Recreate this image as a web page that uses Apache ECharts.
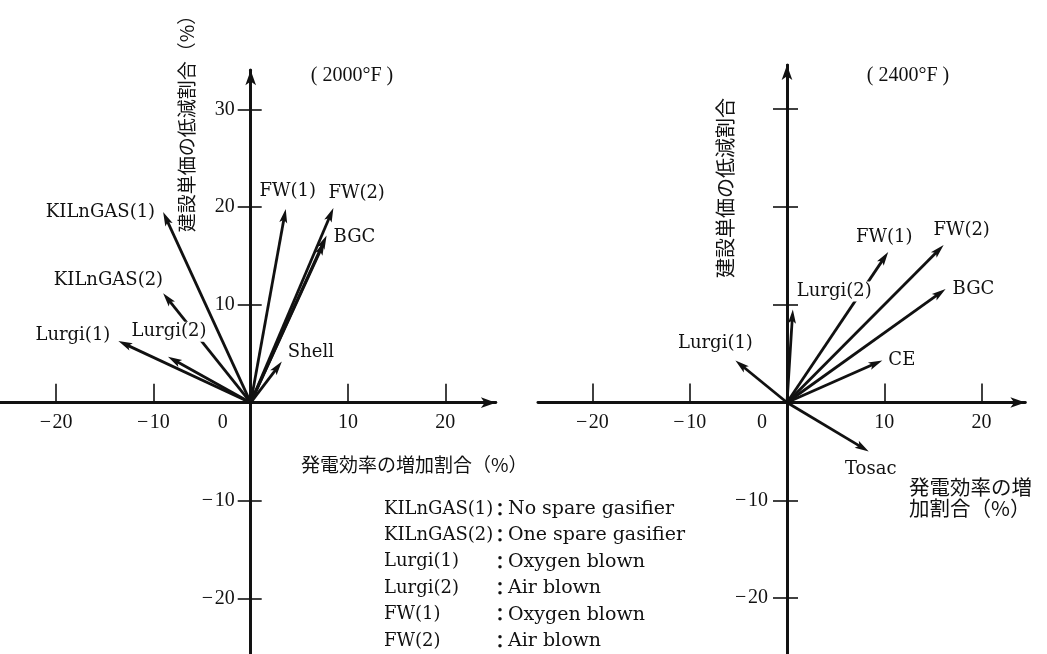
<!DOCTYPE html>
<html>
<head>
<meta charset="utf-8">
<script src="https://cdn.jsdelivr.net/npm/echarts@6/dist/echarts.min.js"></script>
<style>
  html, body { margin: 0; padding: 0; background: #fff; }
  #main { width: 1047px; height: 654px; }
</style>
</head>
<body>
<div id="main"></div>
<script>
// 2000°F 側のベクトル (発電効率の増加割合, 建設単価の低減割合)
var leftNames = ['KILnGAS(1)', 'KILnGAS(2)', 'Lurgi(1)', 'Lurgi(2)', 'FW(1)', 'FW(2)', 'BGC', '', 'Shell'];
var leftX = [-9.0, -9.0, -13.6, -8.5, 3.6, 8.5, 7.8, 7.6, 3.2];
var leftY = [19.5, 11.2, 6.3, 4.7, 19.8, 19.9, 17.1, 16.5, 4.2];

// 2400°F 側のベクトル
var rightNames = ['Lurgi(1)', 'Lurgi(2)', 'FW(1)', 'FW(2)', 'BGC', 'CE', 'Tosac'];
var rightX = [-5.3, 0.6, 10.4, 16.1, 16.3, 9.8, 8.4];
var rightY = [4.3, 9.5, 15.4, 16.1, 11.6, 4.3, -5.0];

// 目盛
var xTicks = [-20, -10, 10, 20];
var xLabels = [-20, -10, 0, 10, 20];
var leftYTicks = [-20, -10, 10, 20, 30];
var leftYLabels = [-20, -10, 10, 20, 30];
var rightYTicks = [-20, -10, 10, 20, 30];
var rightYLabels = [-20, -10];

// 凡例
var legendNames = ['KILnGAS(1)', 'KILnGAS(2)', 'Lurgi(1)', 'Lurgi(2)', 'FW(1)', 'FW(2)'];
var legendDescs = ['No spare gasifier', 'One spare gasifier', 'Oxygen blown', 'Air blown', 'Oxygen blown', 'Air blown'];

// ラベルの置き場所 (先端からのずれ, 揃え, 白抜き)
var leftLabelPos = [[-8, 0, 'right'], [0, -13, 'right'], [-8, -6, 'right'], [1, -25, 'center', 1],
  [2, -18, 'center'], [-5, -15, 'left'], [7, 2, 'left'], null, [6, -9, 'left']];
var rightLabelPos = [[-20, -17, 'center'], [2, -18, 'left', 1], [-4, -15, 'center'], [18, -15, 'center'],
  [7, 0, 'left'], [6, 0, 'left'], [2, 18, 'center']];

var INK = '#111';
var SERIF = "'DejaVu Serif', serif";
var NUMF = "'Liberation Serif', serif";
var JP = "'Noto Sans CJK JP', sans-serif";
var sx = 9.73, sy = 9.78;

function gridFor(ox, oy, xr, yr) {
  return {
    left: ox + xr[0] * sx, top: oy - yr[1] * sy,
    width: (xr[1] - xr[0]) * sx, height: (yr[1] - yr[0]) * sy,
    containLabel: false, outerBoundsMode: 'none'
  };
}

function numFmt(v) {
  if (v < 0) return '\u2212\u200a' + (-v);
  if (v === 0) return '{z|0}';
  return '' + v;
}

// 軸は0の位置へ offset で寄せる
function makeX(grid, xr, yr, zeroShift) {
  return {
    type: 'value', gridIndex: grid, min: xr[0], max: xr[1], position: 'bottom', offset: yr[0] * sy,
    axisLine: { onZero: false, symbol: ['none', 'arrow'], symbolSize: [8, 15],
      lineStyle: { color: INK, width: 2.8 } },
    axisTick: { show: true, inside: true, length: 19, customValues: xTicks, lineStyle: { color: INK, width: 1.6 } },
    axisLabel: { customValues: xLabels, margin: 10, color: INK, fontFamily: NUMF, fontSize: 20,
      formatter: numFmt,
      rich: { z: { fontFamily: NUMF, fontSize: 20, color: INK, padding: [0, zeroShift, 0, 0] } } },
    splitLine: { show: false }
  };
}

function makeY(grid, xr, yr, ticks, labels, margin, tickIn) {
  return {
    type: 'value', gridIndex: grid, min: yr[0], max: yr[1], position: 'left', offset: xr[0] * sx,
    axisLine: { onZero: false, symbol: ['none', 'arrow'], symbolSize: [8, 15],
      lineStyle: { color: INK, width: 2.8 } },
    axisTick: { show: true, inside: true, length: tickIn, customValues: ticks, lineStyle: { color: INK, width: 1.6 } },
    axisLabel: { customValues: labels, margin: margin, color: INK, fontFamily: NUMF, fontSize: 20, formatter: numFmt },
    splitLine: { show: false }
  };
}

// 目盛を軸の左側にも出すための補助軸
function makeYOut(grid, xr, yr, ticks, tickOut) {
  return {
    type: 'value', gridIndex: grid, min: yr[0], max: yr[1], position: 'left', offset: xr[0] * sx,
    axisLine: { onZero: false, lineStyle: { color: INK, width: 2.8 } },
    axisTick: { show: true, inside: false, length: tickOut, customValues: ticks, lineStyle: { color: INK, width: 1.6 } },
    axisLabel: { show: false },
    splitLine: { show: false }
  };
}

function vectorItem(names, pos) {
  return function (params, api) {
    var i = api.value(2);
    var o = api.coord([0, 0]);
    var p = api.coord([api.value(0), api.value(1)]);
    var dx = p[0] - o[0], dy = p[1] - o[1];
    var len = Math.sqrt(dx * dx + dy * dy);
    var ux = dx / len, uy = dy / len;
    var hl = 14, hw = 4;
    var bx = p[0] - ux * hl, by = p[1] - uy * hl;
    var kids = [
      { type: 'line', shape: { x1: o[0], y1: o[1], x2: p[0] - ux * hl * 0.6, y2: p[1] - uy * hl * 0.6 },
        style: { stroke: INK, lineWidth: 2.8 } },
      { type: 'polygon', shape: { points: [[p[0], p[1]], [bx - uy * hw, by + ux * hw],
          [p[0] - ux * hl * 0.78, p[1] - uy * hl * 0.78], [bx + uy * hw, by - ux * hw]] },
        style: { fill: INK } }
    ];
    var lp = pos[i];
    if (names[i] && lp) {
      kids.push({ type: 'text', z2: 20, style: {
        text: names[i], x: p[0] + lp[0], y: p[1] + lp[1], align: lp[2], verticalAlign: 'middle',
        fontFamily: SERIF, fontSize: 18, fill: INK,
        backgroundColor: lp[3] ? '#fff' : 'transparent', padding: lp[3] ? [1, 2] : 0 } });
    }
    return { type: 'group', children: kids };
  };
}

var lxr = [-25.75, 25.2], lyr = [-26, 34.0];
var rxr = [-25.6, 24.5], ryr = [-26, 34.5];

var graphics = [
  { type: 'text', x: 352, y: 76, style: { text: '( 2000°F )', align: 'center', verticalAlign: 'middle',
    fontFamily: NUMF, fontSize: 20, fill: INK } },
  { type: 'text', x: 908, y: 76, style: { text: '( 2400°F )', align: 'center', verticalAlign: 'middle',
    fontFamily: NUMF, fontSize: 20, fill: INK } },
  { type: 'text', x: 187, y: 119, rotation: Math.PI / 2, style: { text: '建設単価の低減割合（%）',
    align: 'center', verticalAlign: 'middle', fontFamily: JP, fontSize: 19, fill: INK } },
  { type: 'text', x: 301, y: 465, style: { text: '発電効率の増加割合（%）',
    align: 'left', verticalAlign: 'middle', fontFamily: JP, fontSize: 19, fill: INK } },
  { type: 'text', x: 725, y: 188, rotation: Math.PI / 2, style: { text: '建設単価の低減割合',
    align: 'center', verticalAlign: 'middle', fontFamily: JP, fontSize: 20, fill: INK } },
  { type: 'text', x: 909, y: 487, style: { text: '発電効率の増',
    align: 'left', verticalAlign: 'middle', fontFamily: JP, fontSize: 20.5, fill: INK } },
  { type: 'text', x: 909, y: 508, style: { text: '加割合（%）',
    align: 'left', verticalAlign: 'middle', fontFamily: JP, fontSize: 20.5, fill: INK } }
];
legendNames.forEach(function (n, i) {
  var y = 509 + i * 26.4;
  graphics.push({ type: 'text', x: 384, y: y, style: { text: n, align: 'left', verticalAlign: 'middle',
    fontFamily: SERIF, fontSize: 18, fill: INK } });
  graphics.push({ type: 'text', x: 500, y: y, style: { text: '：', align: 'center', verticalAlign: 'middle',
    fontFamily: JP, fontSize: 18, fontWeight: 'bold', fill: INK } });
  graphics.push({ type: 'text', x: 508, y: y, style: { text: legendDescs[i], align: 'left', verticalAlign: 'middle',
    fontFamily: SERIF, fontSize: 19, fill: INK } });
});

var myChart = echarts.init(document.getElementById('main'), null, { renderer: 'canvas' });
var option = {
  backgroundColor: '#fff',
  animation: false,
  grid: [gridFor(250.7, 402.7, lxr, lyr), gridFor(787, 402.5, rxr, ryr)],
  xAxis: [makeX(0, lxr, lyr, 56), makeX(1, rxr, ryr, 50)],
  yAxis: [
    makeY(0, lxr, lyr, leftYTicks, leftYLabels, 16, 11),
    makeYOut(0, lxr, lyr, leftYTicks, 13),
    makeY(1, rxr, ryr, rightYTicks, rightYLabels, 19, 11),
    makeYOut(1, rxr, ryr, rightYTicks, 14)
  ],
  series: [
    { type: 'custom', xAxisIndex: 0, yAxisIndex: 0, renderItem: vectorItem(leftNames, leftLabelPos),
      data: leftX.map(function (v, i) { return [v, leftY[i], i]; }) },
    { type: 'custom', xAxisIndex: 1, yAxisIndex: 2, renderItem: vectorItem(rightNames, rightLabelPos),
      data: rightX.map(function (v, i) { return [v, rightY[i], i]; }) }
  ],
  graphic: graphics
};
myChart.setOption(option);
</script>
</body>
</html>
